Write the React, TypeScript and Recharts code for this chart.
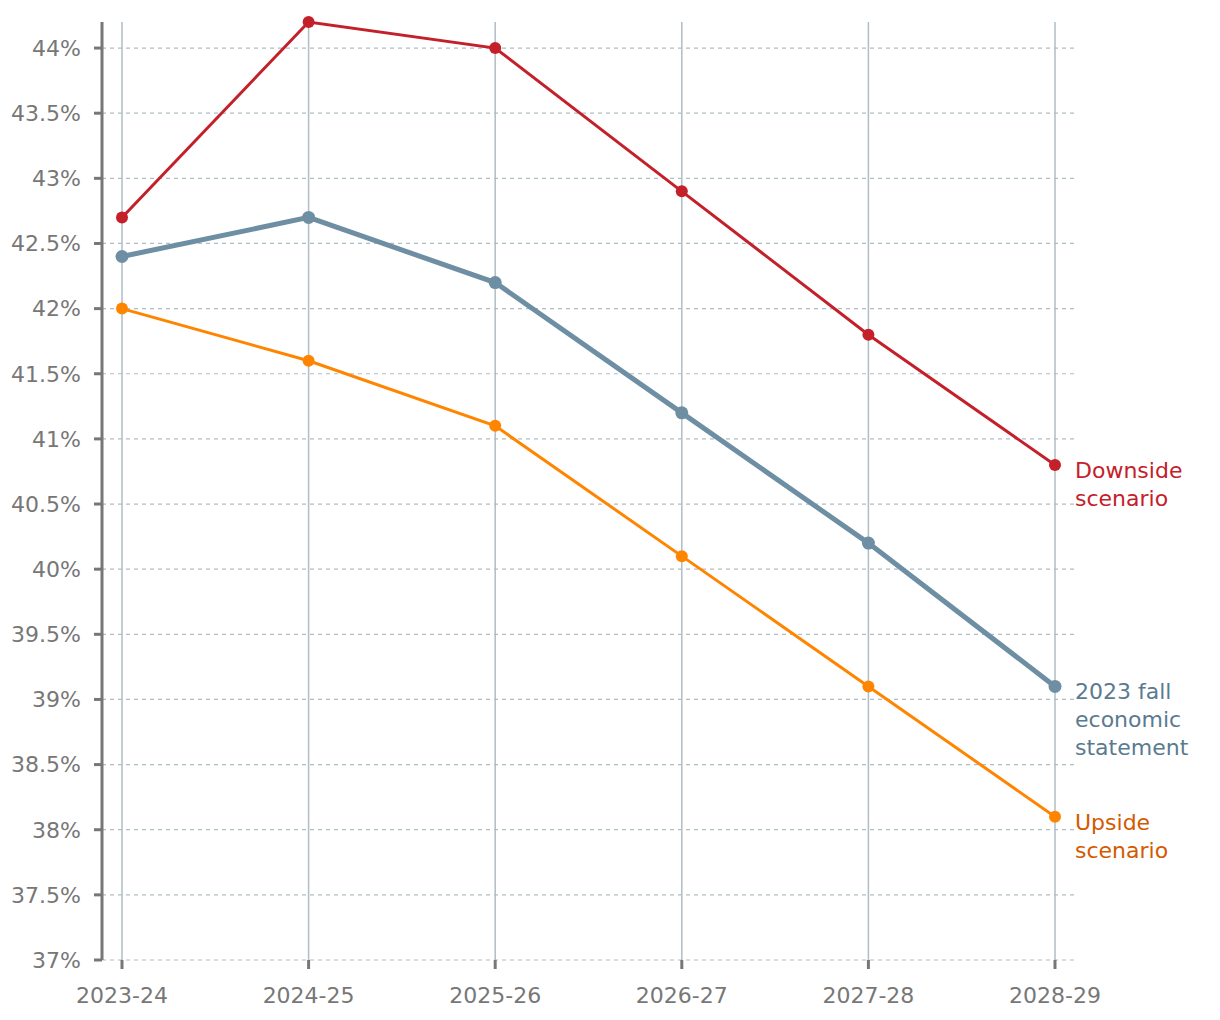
import { LineChart, Line, XAxis, YAxis, CartesianGrid } from "recharts"

const years = ["2023-24", "2024-25", "2025-26", "2026-27", "2027-28", "2028-29"]
const downside = [42.7, 44.2, 44.0, 42.9, 41.8, 40.8]
const fallStatement = [42.4, 42.7, 42.2, 41.2, 40.2, 39.1]
const upside = [42.0, 41.6, 41.1, 40.1, 39.1, 38.1]
const yTicks = [37, 37.5, 38, 38.5, 39, 39.5, 40, 40.5, 41, 41.5, 42, 42.5, 43, 43.5, 44]

const downsideLabel = ["Downside", "scenario"]
const fallLabel = ["2023 fall", "economic", "statement"]
const upsideLabel = ["Upside", "scenario"]

const data = years.map((year, i) => ({
  year,
  downside: downside[i],
  fall: fallStatement[i],
  upside: upside[i],
}))

const FONT = "'DejaVu Sans', sans-serif"
const GRID = "#afbdc6"
const AXIS = "#777"

function endLabel(lines: string[], color: string) {
  return (props: any) => {
    const { x, y, index } = props
    if (index !== years.length - 1) return null
    return (
      <text x={x + 20} y={y + 13} fill={color} fontSize={22} fontFamily={FONT}>
        {lines.map((l, i) => (
          <tspan key={i} x={x + 20} dy={i === 0 ? 0 : 28}>
            {l}
          </tspan>
        ))}
      </text>
    )
  }
}

export default function App() {
  return (
    <LineChart
      width={1204}
      height={1004}
      data={data}
      margin={{ top: 14, right: 137, bottom: 0, left: 0 }}
    >
      <CartesianGrid
        syncWithTicks
        horizontal={true}
        vertical={false}
        stroke={GRID}
        strokeDasharray="4 4"
        strokeWidth={1.2}
      />
      <CartesianGrid syncWithTicks horizontal={false} vertical={true} stroke={GRID} strokeWidth={1.5} />
      <XAxis
        dataKey="year"
        padding={{ left: 20, right: 20 }}
        axisLine={false}
        tickLine={{ stroke: AXIS, strokeWidth: 3 }}
        tickSize={9}
        tickMargin={18}
        height={52}
        tick={{ fill: AXIS, fontSize: 22, fontFamily: FONT }}
        interval={0}
      />
      <YAxis
        domain={[37, 44.2]}
        ticks={yTicks}
        width={94}
        axisLine={{ stroke: AXIS, strokeWidth: 3 }}
        tickLine={{ stroke: AXIS, strokeWidth: 3 }}
        tickSize={8}
        tickMargin={13}
        tick={{ fill: AXIS, fontSize: 22, fontFamily: FONT }}
        tickFormatter={(v: number) => `${v}%`}
      />
      <Line
        dataKey="downside"
        stroke="#c4202a"
        strokeWidth={3}
        dot={{ r: 6, fill: "#c4202a", stroke: "none" }}
        isAnimationActive={false}
        label={endLabel(downsideLabel, "#c4202a")}
      />
      <Line
        dataKey="upside"
        stroke="#ff8500"
        strokeWidth={3}
        dot={{ r: 6, fill: "#ff8500", stroke: "none" }}
        isAnimationActive={false}
        label={endLabel(upsideLabel, "#d35a00")}
      />
      <Line
        dataKey="fall"
        stroke="#6e8fa3"
        strokeWidth={5}
        dot={{ r: 6.5, fill: "#6e8fa3", stroke: "none" }}
        isAnimationActive={false}
        label={endLabel(fallLabel, "#5a7b8f")}
      />
    </LineChart>
  )
}
